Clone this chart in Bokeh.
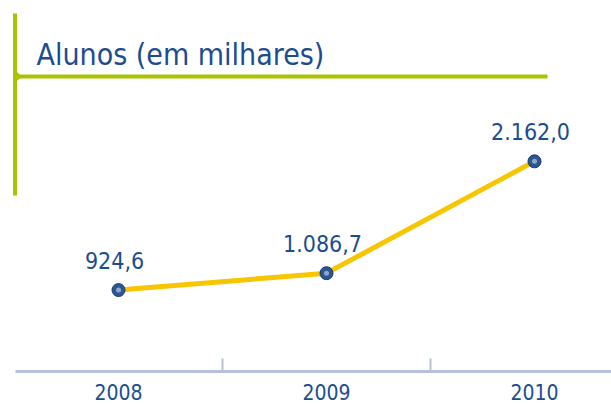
import math
from bokeh.plotting import figure
from bokeh.models import Range1d, FixedTicker, Label
from bokeh.core.properties import value
from bokeh.embed import file_html
from bokeh.resources import INLINE

# ---- data ----
years = ["2008", "2009", "2010"]
alunos = [924.6, 1086.7, 2162.0]
value_labels = ["924,6", "1.086,7", "2.162,0"]
title_text = "Alunos (em milhares)"

# ---- layout constants ----
W, H = 611, 404
BOTTOM = 33       # space reserved below the frame
FH = H - BOTTOM   # frame height (px)
PX = 208.0        # px per category
X_OFF = 14.0      # frame px of x=0
K = 0.10401       # px per thousand students
Y0 = 385.7        # frame px (from top) of value 0

x_start, x_end = -X_OFF / PX, (W - X_OFF) / PX
y_top, y_bot = Y0 / K, (Y0 - FH) / K

def dx(px):
    return (px - X_OFF) / PX

def dy(py):
    return (Y0 - py) / K

FONT = "DejaVu Sans Condensed"
BLUE = "#1c4d8e"
GREEN = "#a9c300"
AXIS = "#b7c1dc"

xs = [i + 0.5 for i in range(len(years))]
bounds = [i + 1.0 for i in range(len(years) - 1)]

p = figure(width=W, height=H, output_backend="svg", toolbar_location=None,
           x_range=Range1d(x_start, x_end), y_range=Range1d(y_bot, y_top),
           y_axis_location=None, min_border=0, min_border_bottom=BOTTOM)
p.background_fill_color = "white"
p.border_fill_color = "white"
p.outline_line_color = None
p.grid.visible = False

# x axis
ax = p.xaxis[0]
ax.ticker = FixedTicker(ticks=xs, minor_ticks=bounds)
ax.major_label_overrides = {x: y for x, y in zip(xs, years)}
ax.bounds = (dx(15), x_end)
ax.axis_line_color = AXIS
ax.axis_line_width = 3
ax.major_tick_line_color = None
ax.minor_tick_line_color = AXIS
ax.minor_tick_line_width = 2
ax.minor_tick_in = 13
ax.minor_tick_out = 0
ax.major_label_standoff = 6
ax.major_label_text_font = FONT
ax.major_label_text_font_size = "21px"
ax.major_label_text_color = BLUE

# green title frame
x0, yj = 14.5, 76.0
p.line([dx(x0), dx(x0)], [dy(13), dy(195)], line_color=GREEN, line_width=4)
p.line([dx(x0), dx(547)], [dy(yj), dy(yj)], line_color=GREEN, line_width=4)
r = 11.0
for sgn in (-1, 1):
    cx, cy = x0 + r, yj + sgn * r
    pts = [(x0, yj)]
    for k in range(13):
        t = math.pi - sgn * (math.pi / 2) * k / 12
        pts.append((cx + r * math.cos(t), cy - sgn * r * abs(math.sin(t))))
    p.patch([dx(a) for a, b in pts], [dy(b) for a, b in pts], fill_color=GREEN, line_color=None)

p.add_layout(Label(x=dx(36), y=dy(54), text=title_text, text_font=FONT,
                   text_font_size="30px", text_color=BLUE, text_baseline="alphabetic"))

# data line and points
p.line(xs, alunos, line_color="#f7c600", line_width=5)
p.scatter(xs, alunos, size=13, fill_color="#2c5690", line_color="#1c3a66", line_width=1)
p.scatter(xs, alunos, size=5, fill_color="#8ea6ca", line_color=None)
p.text(xs, alunos, text=value_labels, text_font=value(FONT), text_font_size="23px",
       text_color=BLUE, text_align="center", text_baseline="alphabetic",
       x_offset=-4, y_offset=-30)

open("out.html", "w").write(file_html(p, INLINE))
